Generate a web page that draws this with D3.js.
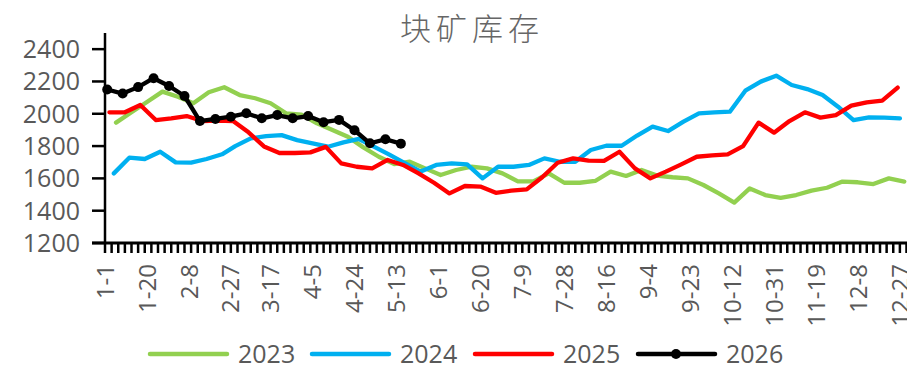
<!DOCTYPE html>
<html>
<head>
<meta charset="utf-8">
<script src="https://cdn.jsdelivr.net/npm/d3@7/dist/d3.min.js"></script>
<style>
  html, body { margin: 0; padding: 0; background: #fff; overflow: hidden; }
  svg { display: block; }
  text { font-family: "Open Sans", "Noto Sans", sans-serif; fill: #595959; }
</style>
</head>
<body>
<svg id="chart" width="907" height="366"></svg>
<script>
// Lump ore inventory, weekly (Friday) readings, one series per year
const years = ["2023", "2024", "2025", "2026"];
const firstFriday = { "2023": "2023-01-06", "2024": "2024-01-05", "2025": "2025-01-03", "2026": "2026-01-02" };

const values2023 = [1945, 2009, 2073, 2137, 2105, 2065, 2133, 2164, 2116, 2096,
  2065, 2003, 1995, 1941, 1900, 1858, 1792, 1734, 1689, 1703,
  1662, 1621, 1652, 1672, 1662, 1631, 1582, 1582, 1631, 1573,
  1573, 1584, 1642, 1615, 1652, 1617, 1607, 1600, 1559, 1507,
  1450, 1538, 1497, 1480, 1497, 1524, 1542, 1580, 1576, 1565,
  1600, 1580];
const values2024 = [1631, 1728, 1720, 1765, 1699, 1697, 1720, 1749, 1800, 1848,
  1862, 1868, 1837, 1817, 1796, 1823, 1844, 1795, 1745, 1693,
  1642, 1683, 1693, 1687, 1600, 1672, 1672, 1683, 1724, 1703,
  1703, 1776, 1802, 1802, 1865, 1920, 1893, 1951, 2003, 2009,
  2013, 2143, 2199, 2236, 2178, 2153, 2116, 2044, 1961, 1978,
  1976, 1972];
const values2025 = [2009, 2009, 2054, 1961, 1972, 1986, 1955, 1957, 1955, 1885,
  1798, 1757, 1757, 1761, 1795, 1693, 1672, 1662, 1714, 1683,
  1631, 1573, 1507, 1553, 1549, 1511, 1524, 1532, 1607, 1697,
  1724, 1710, 1708, 1765, 1662, 1600, 1642, 1687, 1734, 1743,
  1749, 1800, 1945, 1883, 1955, 2009, 1976, 1992, 2050, 2071,
  2081, 2162];
const values2026 = [2150, 2125, 2165, 2220, 2172, 2110, 1955, 1968, 1982, 2003,
  1972, 1992, 1972, 1986, 1948, 1962, 1898, 1817, 1842, 1815];

const seriesValues = { "2023": values2023, "2024": values2024, "2025": values2025, "2026": values2026 };
const seriesColors = { "2023": "#92D050", "2024": "#00B0F0", "2025": "#FF0000", "2026": "#000000" };

const yTicks = [1200, 1400, 1600, 1800, 2000, 2200, 2400];
const xTickLabels = ["1-1", "1-20", "2-8", "2-27", "3-17", "4-5", "4-24", "5-13", "6-1", "6-20",
  "7-9", "7-28", "8-16", "9-4", "9-23", "10-12", "10-31", "11-19", "12-8", "12-27"];

// month-day placed on a common (non-leap) calendar year
const baseYear = 2026;
function dayOfYear(month, day) {
  const d = new Date(Date.UTC(baseYear, month - 1, day));
  return Math.round((d - Date.UTC(baseYear, 0, 1)) / 86400000);
}
function seriesPoints(year) {
  const start = new Date(firstFriday[year] + "T00:00:00Z");
  return seriesValues[year].map((v, i) => {
    const dt = new Date(start.getTime() + i * 7 * 86400000);
    return { day: dayOfYear(dt.getUTCMonth() + 1, dt.getUTCDate()), value: v };
  });
}

const svg = d3.select("#chart");
const plotLeft = 105, plotBottom = 243, plotTop = 33;
const x = d3.scaleLinear().domain([0, 365]).range([plotLeft, plotLeft + 365 * 2.208]);
const y = d3.scaleLinear().domain([1200, 2500]).range([plotBottom, plotTop]);

// title
svg.append("text")
  .attr("x", 472).attr("y", 40)
  .attr("text-anchor", "middle")
  .style("font-family", "'Noto Sans CJK SC', sans-serif")
  .style("font-size", "31px")
  .style("font-weight", 300)
  .style("letter-spacing", "5px")
  .style("fill", "#666")
  .text("块矿库存");

// y axis
const yAxis = svg.append("g");
yAxis.append("line")
  .attr("x1", plotLeft).attr("x2", plotLeft)
  .attr("y1", plotTop).attr("y2", plotBottom)
  .attr("stroke", "#000").attr("stroke-width", 2.5);
yAxis.selectAll("line.tick").data(yTicks).join("line")
  .attr("class", "tick")
  .attr("x1", plotLeft - 13).attr("x2", plotLeft)
  .attr("y1", d => y(d)).attr("y2", d => y(d))
  .attr("stroke", "#000").attr("stroke-width", 2.5);
yAxis.selectAll("text").data(yTicks).join("text")
  .attr("x", 80).attr("y", d => y(d))
  .attr("dy", "0.36em")
  .attr("text-anchor", "end")
  .style("font-size", "25px")
  .text(d => d);

// x axis
const xAxis = svg.append("g");
xAxis.selectAll("line.minor").data(d3.range(0, 366, 3)).join("line")
  .attr("class", "minor")
  .attr("x1", d => x(d)).attr("x2", d => x(d))
  .attr("y1", plotBottom).attr("y2", plotBottom + 10)
  .attr("stroke", "#000").attr("stroke-width", 2.5);
xAxis.append("line")
  .attr("x1", plotLeft - 13).attr("x2", 920)
  .attr("y1", plotBottom).attr("y2", plotBottom)
  .attr("stroke", "#000").attr("stroke-width", 3);
xAxis.selectAll("text").data(xTickLabels).join("text")
  .attr("transform", d => {
    const [m, dd] = d.split("-").map(Number);
    return `translate(${x(dayOfYear(m, dd))},${plotBottom + 21}) rotate(-90)`;
  })
  .attr("dy", "0.36em")
  .attr("text-anchor", "end")
  .style("font-size", "24px")
  .text(d => d);

// series lines
const line = d3.line().x(d => x(d.day)).y(d => y(d.value));
years.forEach(yr => {
  const pts = seriesPoints(yr);
  svg.append("path")
    .datum(pts)
    .attr("d", line)
    .attr("fill", "none")
    .attr("stroke", seriesColors[yr])
    .attr("stroke-width", 4.3)
    .attr("stroke-linejoin", "round")
    .attr("stroke-linecap", "round");
  if (yr === "2026") {
    svg.append("g").selectAll("circle").data(pts).join("circle")
      .attr("cx", d => x(d.day)).attr("cy", d => y(d.value))
      .attr("r", 5).attr("fill", "#000");
  }
});

// legend
const legendX = [150, 312, 475, 638];
const legend = svg.append("g");
years.forEach((yr, i) => {
  const lx = legendX[i], ly = 354;
  legend.append("line")
    .attr("x1", lx).attr("x2", lx + 77)
    .attr("y1", ly).attr("y2", ly)
    .attr("stroke", seriesColors[yr]).attr("stroke-width", 4.5)
    .attr("stroke-linecap", "round");
  if (yr === "2026") {
    legend.append("circle").attr("cx", lx + 38).attr("cy", ly).attr("r", 5).attr("fill", "#000");
  }
  legend.append("text")
    .attr("x", lx + 88).attr("y", ly)
    .attr("dy", "0.36em")
    .style("font-size", "25px")
    .text(yr);
});
</script>
</body>
</html>
